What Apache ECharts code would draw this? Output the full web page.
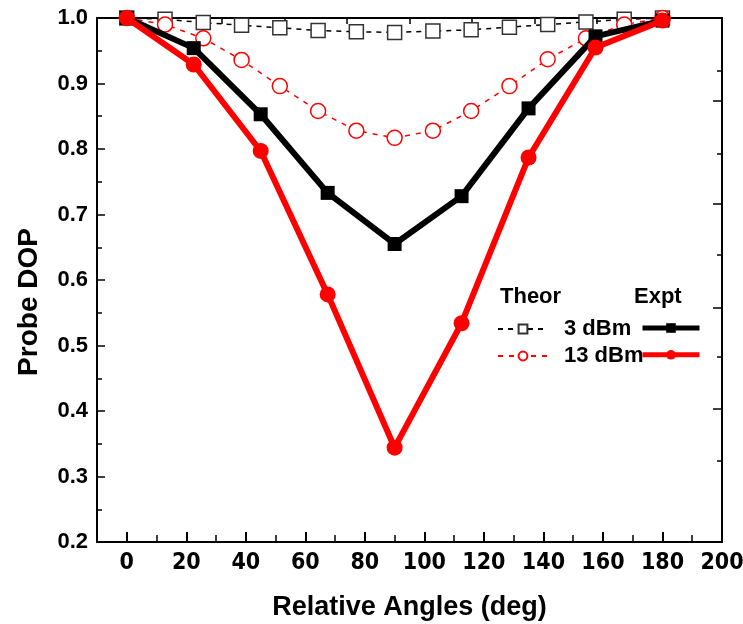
<!DOCTYPE html>
<html>
<head>
<meta charset="utf-8">
<script src="https://cdn.jsdelivr.net/npm/echarts@6/dist/echarts.min.js"></script>
<style>
  html, body { margin: 0; padding: 0; background: #fff; }
  #chart { width: 743px; height: 624px; }
</style>
</head>
<body>
<div id="chart"></div>
<script>
// Measured angles (deg) and probe DOP
const angleExpt = [0, 22.5, 45, 67.5, 90, 112.5, 135, 157.5, 180];
const expt3dBm  = [1.0, 0.954, 0.853, 0.733, 0.655, 0.728, 0.862, 0.972, 0.996];
const expt13dBm = [1.0, 0.929, 0.797, 0.578, 0.344, 0.534, 0.787, 0.955, 0.996];

// Theoretical curves
const angleTheor = [0, 12.86, 25.71, 38.57, 51.43, 64.29, 77.14, 90, 102.86, 115.71, 128.57, 141.43, 154.29, 167.14, 180];
const theor3dBm  = [1.0, 0.998, 0.993, 0.989, 0.985, 0.981, 0.979, 0.978, 0.980, 0.982, 0.986, 0.990, 0.994, 0.998, 1.0];
const theor13dBm = [1.0, 0.990, 0.969, 0.936, 0.896, 0.858, 0.828, 0.817, 0.828, 0.858, 0.896, 0.937, 0.969, 0.990, 1.0];

// Axis ticks
const xTickValues  = [0, 20, 40, 60, 80, 100, 120, 140, 160, 180, 200];
const xMinorValues = [10, 30, 50, 70, 90, 110, 130, 150, 170, 190];
const rightLongTicks  = [0.874, 0.717, 0.558, 0.404];
const rightShortTicks = [0.920, 0.792, 0.638, 0.483, 0.324];

const FONT = '"Liberation Sans", Arial, sans-serif';
const NARROW = '"Liberation Sans Narrow", "DejaVu Sans Condensed", Arial, sans-serif';
const pair = (xs, ys) => xs.map((x, i) => [x, ys[i]]);

const chart = echarts.init(document.getElementById('chart'));

const frameLine = { show: true, onZero: false, lineStyle: { color: '#000', width: 2 } };
const noLine = { show: false, onZero: false };
const plotRect = { left: 97, right: 21, top: 18, bottom: 82, containLabel: false, outerBoundsMode: 'none' };

chart.setOption({
  animation: false,
  backgroundColor: '#fff',
  // second grid shares the plot rectangle and carries the short ticks
  grid: [plotRect, Object.assign({}, plotRect)],
  xAxis: [
    {
      gridIndex: 0, type: 'value', min: -10, max: 200, position: 'bottom',
      axisLine: frameLine,
      axisTick: { show: true, inside: true, length: 10, customValues: xTickValues, lineStyle: { color: '#000', width: 2 } },
      axisLabel: { show: true, customValues: xTickValues, margin: 10, color: '#000', fontFamily: NARROW, fontWeight: 'bold', fontSize: 23 },
      splitLine: { show: false },
      name: 'Relative Angles (deg)', nameLocation: 'middle', nameGap: 52,
      nameTextStyle: { color: '#000', fontFamily: FONT, fontWeight: 'bold', fontSize: 27 }
    },
    {
      gridIndex: 0, type: 'value', min: 0, max: 10, interval: 1, position: 'top',
      axisLine: frameLine,
      axisTick: { show: true, inside: true, length: 6, lineStyle: { color: '#000', width: 1.5 } },
      axisLabel: { show: false },
      splitLine: { show: false }
    },
    {
      gridIndex: 1, type: 'value', min: -10, max: 200, position: 'bottom',
      axisLine: noLine,
      axisTick: { show: true, inside: true, length: 7, customValues: xMinorValues, lineStyle: { color: '#000', width: 1.5 } },
      axisLabel: { show: false },
      splitLine: { show: false }
    }
  ],
  yAxis: [
    {
      gridIndex: 0, type: 'value', min: 0.2, max: 1.0, interval: 0.1, position: 'left',
      axisLine: frameLine,
      axisTick: { show: true, inside: true, length: 8, lineStyle: { color: '#000', width: 1.5 } },
      minorTick: { show: true, splitNumber: 2, length: 5, lineStyle: { color: '#000', width: 1.5 } },
      axisLabel: { margin: 9, color: '#000', fontFamily: FONT, fontWeight: 'bold', fontSize: 22,
                   formatter: v => v.toFixed(1) },
      splitLine: { show: false },
      name: 'Probe DOP', nameLocation: 'middle', nameGap: 54,
      nameTextStyle: { color: '#000', fontFamily: FONT, fontWeight: 'bold', fontSize: 28, padding: [0, 44, 0, 0] }
    },
    {
      gridIndex: 0, type: 'value', min: 0.2, max: 1.0, position: 'right',
      axisLine: frameLine,
      axisTick: { show: true, inside: true, length: 9, customValues: rightLongTicks, lineStyle: { color: '#000', width: 1.5 } },
      axisLabel: { show: false },
      splitLine: { show: false }
    },
    {
      gridIndex: 1, type: 'value', min: 0.2, max: 1.0, position: 'right',
      axisLine: noLine,
      axisTick: { show: true, inside: true, length: 5, customValues: rightShortTicks, lineStyle: { color: '#000', width: 1.5 } },
      axisLabel: { show: false },
      splitLine: { show: false }
    }
  ],
  legend: [
    {
      data: ['3 dBm', '13 dBm'],
      orient: 'vertical', left: 497, top: 318, padding: 0,
      itemWidth: 50, itemHeight: 11, itemGap: 5,
      selectedMode: false,
      textStyle: { color: '#000', fontFamily: FONT, fontWeight: 'bold', fontSize: 22, padding: [0, 0, 0, 11] }
    },
    {
      data: ['Expt 3 dBm', 'Expt 13 dBm'],
      orient: 'vertical', left: 640, top: 322, padding: 0,
      itemWidth: 57, itemHeight: 12, itemGap: 16,
      selectedMode: false,
      formatter: () => '',
      lineStyle: { width: 5 },
      textStyle: { fontSize: 1 }
    }
  ],
  graphic: [
    { type: 'text', left: 500, top: 286,
      style: { text: 'Theor', fill: '#000', font: 'bold 22px ' + FONT } },
    { type: 'text', left: 634, top: 286,
      style: { text: 'Expt', fill: '#000', font: 'bold 22px ' + FONT } }
  ],
  series: [
    {
      name: '3 dBm', type: 'line', xAxisIndex: 0, yAxisIndex: 0, z: 2,
      data: pair(angleTheor, theor3dBm),
      symbol: 'rect', symbolSize: 14,
      lineStyle: { color: '#000', width: 1.5, type: [5, 5] },
      itemStyle: { color: '#fff', borderColor: '#333', borderWidth: 1.5 }
    },
    {
      name: '13 dBm', type: 'line', xAxisIndex: 0, yAxisIndex: 0, z: 2,
      data: pair(angleTheor, theor13dBm),
      symbol: 'circle', symbolSize: 15,
      lineStyle: { color: '#ff0000', width: 1.5, type: [5, 6] },
      itemStyle: { color: '#fff', borderColor: '#ff0000', borderWidth: 1.5 }
    },
    {
      name: 'Expt 3 dBm', type: 'line', xAxisIndex: 0, yAxisIndex: 0, z: 3,
      data: pair(angleExpt, expt3dBm),
      symbol: 'rect', symbolSize: 14,
      lineStyle: { color: '#000', width: 6 },
      itemStyle: { color: '#000' }
    },
    {
      name: 'Expt 13 dBm', type: 'line', xAxisIndex: 0, yAxisIndex: 0, z: 4,
      data: pair(angleExpt, expt13dBm),
      symbol: 'circle', symbolSize: 16,
      lineStyle: { color: '#ff0000', width: 6 },
      itemStyle: { color: '#ff0000' }
    }
  ]
});
</script>
</body>
</html>
